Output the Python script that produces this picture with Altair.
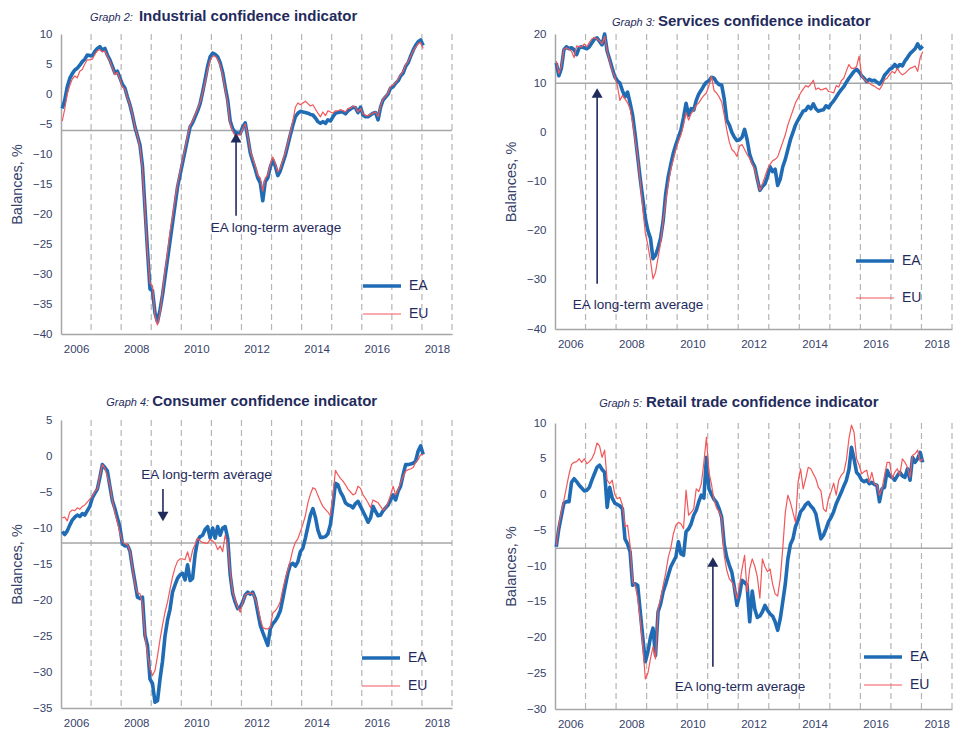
import altair as alt
import pandas as pd

FONT = "'Liberation Sans', Arial, sans-serif"
NAVY = "#1F2B5C"
TICK = "#36426A"
BLUE = "#1F6CB5"
RED = "#F2575A"
AVG_GRAY = "#A6A6A6"
DASH_GRAY = "#B5B5B5"

START = 2006
LABEL_YEARS = [2006, 2008, 2010, 2012, 2014, 2016, 2018]
GRID_YEARS = [2007, 2008, 2009, 2010, 2011, 2012, 2013, 2014, 2015, 2016, 2017, 2018, 2019]
SERIES = ["EA", "EU"]

# ---------------- Graph 2: industrial confidence (monthly, Jan 2006 - Jan 2018)
ind_ea = [-2.4, -1.0, 1.2, 2.6, 3.4, 4.0, 4.3, 4.8, 5.4, 5.8, 6.5, 6.4,
          6.4, 7.1, 7.6, 7.9, 7.3, 7.6, 6.5, 5.7, 4.6, 3.5, 3.8, 2.7,
          1.6, 1.0, -0.5, -1.8, -3.5, -5.5, -7.0, -8.5, -12.0, -19.0, -26.0, -32.5,
          -32.8, -36.5, -38.0, -36.0, -33.5, -30.5, -27.5, -24.5, -21.5, -18.5, -15.5, -13.5,
          -11.5, -9.5, -7.5, -5.5, -4.8, -3.8, -2.8, -1.6, 0.3, 2.4, 4.6, 6.2,
          6.8, 6.6, 6.2, 5.2, 3.6, 1.2, -1.0, -4.5, -5.8, -6.4, -6.5, -6.6,
          -5.5, -4.8, -7.2, -9.8, -11.2, -12.5, -14.0, -14.8, -17.8, -14.6, -14.0, -12.2,
          -11.0, -12.0, -13.6, -12.8, -11.5, -10.2, -8.5, -6.8, -5.2, -3.8, -3.2, -2.9,
          -3.0, -3.1, -3.2, -3.4, -3.5, -4.0, -4.6, -4.9, -4.6, -4.9, -4.3, -4.5,
          -3.8, -3.2, -3.1, -3.0, -3.0, -3.3, -2.8, -2.5, -2.2, -2.3, -3.1, -2.2,
          -3.5, -3.8, -3.8, -3.5, -3.2, -3.1, -4.3, -2.2, -1.0, -0.5, 0.0, 1.0,
          1.2, 1.8, 2.2, 3.0, 3.5, 4.6, 5.2, 6.3, 7.3, 8.1, 8.7, 9.0,
          8.1]
ind_eu = [-4.5, -2.5, 0.0, 1.4, 2.5, 3.0, 2.7, 3.8, 4.1, 5.0, 5.7, 5.7,
          5.8, 6.6, 7.2, 7.4, 7.0, 7.2, 6.3, 5.5, 4.4, 3.2, 3.6, 2.5,
          1.2, 0.8, -0.6, -1.8, -3.4, -5.5, -7.0, -8.8, -12.5, -19.5, -26.5, -31.5,
          -32.0, -37.0, -38.5, -36.5, -33.0, -29.5, -26.5, -23.0, -20.5, -17.5, -15.0, -13.0,
          -11.0, -9.0, -7.0, -5.2, -4.5, -3.5, -2.5, -1.4, 0.2, 2.0, 4.0, 5.6,
          6.3, 6.3, 5.8, 4.8, 3.2, 0.8, -1.5, -5.0, -6.2, -7.0, -6.8, -6.8,
          -5.8, -5.0, -7.0, -9.5, -10.8, -12.0, -13.5, -14.0, -16.2, -14.0, -13.5, -11.8,
          -10.5, -11.6, -13.0, -12.4, -11.0, -9.8, -8.2, -6.4, -4.6, -2.2, -1.5, -1.8,
          -1.5, -1.2, -1.6, -2.0, -1.8, -2.5, -3.2, -3.8, -3.0, -3.6, -2.8, -3.0,
          -3.2, -2.8, -2.8, -2.6, -2.8, -3.0, -2.4, -2.4, -2.0, -2.2, -3.0, -2.4,
          -3.3, -3.6, -3.6, -3.4, -3.2, -3.0, -3.8, -2.0, -0.8, -0.4, 0.2, 1.3,
          1.5, 1.9, 2.5, 3.2, 3.8, 4.8, 5.4, 6.3, 7.2, 7.8, 8.4, 8.6,
          7.6]

# ---------------- Graph 3: services confidence
srv_ea = [14.1, 11.5, 13.0, 16.8, 17.4, 17.0, 17.2, 16.8, 15.8, 17.2, 17.4, 17.2,
          17.0, 17.4, 18.2, 19.0, 19.2, 18.5, 17.8, 20.0, 16.5, 14.8, 13.0, 11.3,
          10.5, 10.0, 8.5, 7.2, 8.2, 6.0, 3.5, -0.5, -5.0, -9.5, -13.5, -17.5,
          -20.0, -21.5, -25.7, -25.0, -23.5, -21.5, -18.0, -12.5, -9.0, -6.5, -4.2, -2.5,
          -1.0, 0.5, 3.0, 5.9, 3.5, 4.8, 4.5, 6.5, 7.8, 8.6, 9.5, 10.2,
          10.5, 11.2, 11.0, 10.2, 9.7, 9.6, 6.8, 2.5, 1.5, 0.0, -1.0, -1.7,
          -1.5, -1.0, 0.6, -1.5, -4.5, -6.0, -7.0, -9.5, -11.8, -11.0, -10.5, -9.0,
          -7.0, -8.0, -7.5, -10.8, -9.5, -7.0, -5.5, -3.5, -1.5, 0.0, 1.5, 2.5,
          3.4, 4.3, 4.5, 5.3, 4.8, 5.8, 4.8, 4.3, 4.5, 4.6, 5.4, 5.0,
          5.8, 6.4, 7.2, 8.0, 8.7, 9.3, 10.2, 11.0, 11.7, 12.4, 12.8, 12.3,
          11.5, 11.0, 10.3, 10.8, 10.5, 10.6, 10.2, 9.8, 10.5, 11.6, 12.2, 12.8,
          13.1, 13.8, 13.2, 13.8, 13.5, 14.5, 15.2, 16.0, 16.5, 17.0, 18.0, 17.0,
          17.5]
srv_eu = [14.5, 12.0, 13.5, 16.9, 17.2, 16.9, 16.5, 15.2, 17.6, 17.4, 17.4, 18.0,
          17.4, 18.3, 19.0, 19.3, 19.0, 18.6, 18.0, 19.5, 16.5, 14.5, 12.5, 11.3,
          9.5, 6.5, 7.5, 6.8, 6.0, 4.8, 2.0, -1.5, -5.0, -10.0, -15.5, -20.5,
          -23.0, -26.0, -29.8, -28.5, -25.5, -22.5, -18.0, -14.0, -10.5, -7.5, -5.5, -3.5,
          -1.8, -0.5, 1.5, 4.0, 2.5, 3.8, 4.5, 5.5, 6.0, 6.8, 7.5, 8.0,
          9.5, 11.4, 8.5, 8.0, 7.2, 6.2, 3.5, 0.5, -2.0, -3.5, -4.0, -4.9,
          -2.8, -2.5, -3.5, -4.5, -5.3, -6.5, -7.5, -9.7, -11.8, -10.5, -9.0, -7.5,
          -6.5, -5.8, -5.5, -5.0, -3.5, -2.0, -0.5, 1.5, 3.0, 4.5, 6.0, 7.0,
          8.0, 8.8, 9.5, 9.2, 9.8, 10.6, 8.7, 9.0, 8.6, 8.8, 9.0, 8.3,
          8.2, 8.0, 9.5, 9.2, 10.5, 11.0, 12.5, 13.8, 13.0, 13.0, 13.4, 15.5,
          11.5, 10.8, 10.3, 10.0, 9.6, 9.4, 9.0, 8.7, 9.5, 10.7, 11.0, 11.8,
          12.4, 12.0, 13.0, 12.2, 11.7, 12.0, 12.5, 13.0, 13.2, 13.5, 12.4, 15.2,
          16.4]

# ---------------- Graph 4: consumer confidence
con_ea = [-10.5, -10.9, -10.4, -9.6, -8.9, -8.5, -8.2, -8.4, -8.0, -8.2, -7.6, -7.0,
          -5.8, -5.2, -4.6, -3.0, -1.2, -1.6, -2.1, -4.2, -6.2, -7.3, -8.6, -9.9,
          -12.2, -12.5, -12.4, -13.2, -15.5, -17.5, -19.6, -19.8, -19.6, -24.9, -26.3, -31.0,
          -31.6, -34.2, -34.0, -31.0, -28.5, -25.0, -22.8, -21.3, -18.9, -17.9, -17.0, -16.5,
          -16.3, -17.2, -15.1, -17.3, -17.0, -13.7, -11.7, -11.2, -11.0, -10.2, -9.8, -11.4,
          -10.0, -11.4, -9.8, -11.0, -10.0, -9.8, -11.4, -16.5, -19.1, -20.3, -21.2, -21.0,
          -20.3, -19.3, -18.9, -19.2, -18.9, -19.8, -21.7, -23.5, -24.5, -25.4, -26.3, -24.0,
          -23.3, -22.9, -22.3, -21.5, -19.8, -18.0, -16.3, -15.1, -14.9, -15.3, -14.7, -13.3,
          -12.8, -11.4, -9.8, -8.2, -7.3, -8.5, -10.3, -11.3, -11.3, -11.2, -10.8, -9.5,
          -6.8, -3.8, -4.0, -5.0, -5.6, -6.5, -6.8, -6.9, -7.2, -6.6, -6.3, -7.0,
          -7.7, -8.4, -9.2, -8.6, -7.0, -7.7, -8.3, -8.2, -7.6, -7.2, -6.8, -6.1,
          -5.4, -6.1, -4.9, -4.2, -2.6, -1.2, -1.2, -1.1, -1.0, -0.7, 0.7, 1.4,
          0.2]
con_eu = [-8.6, -8.5, -9.0, -7.8, -7.5, -7.6, -7.2, -7.4, -7.0, -6.8, -6.4, -6.0,
          -5.6, -4.9, -4.6, -2.8, -1.2, -1.7, -2.8, -4.0, -6.2, -7.8, -9.2, -10.7,
          -11.9, -12.2, -12.3, -13.2, -15.5, -17.8, -19.0, -19.1, -20.5, -24.9, -27.5, -29.5,
          -30.5, -29.8, -27.8, -25.5, -23.5, -21.7, -20.3, -18.5, -16.8, -15.5, -14.6, -14.3,
          -14.3, -14.4, -13.3, -14.7, -13.1, -12.3, -11.4, -11.8, -12.0, -12.1, -12.1, -11.6,
          -11.8, -12.1, -13.0, -12.5, -13.3, -11.0, -12.3, -16.1, -18.9, -20.0, -21.0, -21.7,
          -20.3, -19.3, -19.1, -19.0, -19.1, -19.8, -21.0, -22.6, -23.8, -24.0, -24.0, -23.8,
          -21.8, -21.5, -21.0, -20.2, -18.5, -17.0, -15.8, -14.5, -13.0, -12.0, -11.5, -10.5,
          -9.5, -8.3, -6.5, -5.3, -4.4, -4.6, -5.5, -6.3, -7.0, -7.4, -7.8, -8.3,
          -5.4, -2.0, -2.6, -3.1, -3.5, -4.0, -4.6, -5.0, -5.4, -5.2, -4.2, -4.5,
          -5.4, -5.9, -6.5, -7.2, -6.1, -6.3, -6.5, -7.0, -7.5, -7.2, -6.5, -5.4,
          -4.2, -5.4, -4.7, -3.7, -2.8, -2.1, -1.9, -1.8, -1.6, -0.9, -0.5, 0.2,
          0.2]

# ---------------- Graph 5: retail trade confidence
ret_ea = [-7.3, -4.8, -3.0, -1.2, -1.0, -1.0, 1.7, 2.2, 1.8, 1.3, 0.9, 0.5,
          0.6, 1.0, 2.0, 2.9, 3.8, 4.1, 3.5, 3.1, -1.8, 1.0, -0.5, -1.2,
          -1.4, -1.6, -2.0, -6.2, -6.9, -8.0, -12.7, -12.5, -12.7, -16.4, -20.0, -23.4,
          -22.0, -20.0, -18.7, -22.5, -16.4, -15.3, -13.6, -12.5, -11.3, -10.1, -9.4, -8.7,
          -6.6, -8.3, -8.5, -5.2, -4.8, -4.1, -2.9, -2.2, -1.0, -0.1, -0.5, 5.2,
          0.8, 0.0, -0.7, -1.1, -2.0, -3.2, -7.0, -8.8, -9.9, -10.9, -13.0, -15.5,
          -14.0, -12.0, -12.3, -12.7, -17.8, -13.5, -16.0, -17.2, -17.0, -16.4, -15.5, -16.2,
          -16.7, -17.0, -17.8, -19.0, -17.4, -15.0, -12.5, -9.0, -7.0, -6.2, -4.5, -3.6,
          -2.4, -2.0, -1.4, -1.1, -1.6, -2.0, -2.7, -4.5, -6.2, -5.7, -4.8, -3.8,
          -3.2, -2.4, -1.3, -0.5, 0.3, 1.2, 2.0, 3.5, 6.6, 5.0, 3.1, 2.7,
          2.0, 1.8, 2.0, 1.5, 1.7, 1.4, 1.3, -1.0, 0.8, 1.0, 3.4, 2.6,
          2.4, 2.0, 2.6, 3.1, 2.6, 2.4, 3.6, 2.0, 5.2, 4.5, 5.0, 5.9,
          4.5]
ret_eu = [-7.1, -4.3, -2.4, -0.8, 1.0, 2.8, 4.2, 4.5, 4.6, 5.0, 4.5, 5.0,
          4.3, 4.6, 5.0, 5.8, 7.2, 6.8, 5.2, 6.2, 2.0, 1.5, 2.0, 0.0,
          -0.6, -0.4, -1.5, -4.5, -4.3, -7.1, -12.2, -12.7, -14.5, -17.5, -21.1, -25.8,
          -25.0, -23.0, -21.3, -23.0, -16.0, -14.6, -12.7, -11.0, -8.8, -7.5, -5.5, -4.3,
          -3.9, -4.1, -4.8, 0.6, -2.9, -2.5, -2.0, 0.8, 0.4, 1.5, 4.5, 8.0,
          3.1, 1.4, -0.8, -1.9, -2.4, -3.3, -8.5, -10.6, -11.8, -12.2, -13.0, -14.6,
          -12.7, -10.4, -8.5, -13.6, -10.4, -9.0, -10.0, -11.5, -14.5, -9.0, -10.1, -10.8,
          -10.4, -12.5, -13.9, -14.2, -11.8, -7.5, -2.5, -0.1, -1.1, -2.5, -3.9, 1.7,
          3.6, 0.8, 2.2, 3.8, 3.6, 2.9, 2.2, 1.0, 0.5, -2.0, -2.4, -0.5,
          0.4, 1.6, -0.1, 2.0, 2.7, 3.1, 4.8, 7.8, 9.7, 8.7, 5.0, 4.1,
          2.9, 3.2, 3.4, 1.7, 3.1, 1.5, 1.3, -0.1, 0.8, 2.7, 4.5, 4.5,
          2.2, 3.1, 3.6, 2.7, 5.0, 4.5, 3.8, 2.4, 5.5, 5.7, 6.2, 4.6,
          5.0]


def panel(ea, eu, ydom, ystep, avg, prefix, title, title_pos, arrow, note_pos,
          legend_pos, width, height):
    n = len(ea)
    t = [START + (i + 0.5) / 12 for i in range(n)]
    df = pd.DataFrame({"t": t + t, "value": ea + eu,
                       "series": ["EA"] * n + ["EU"] * len(eu)})

    xscale = alt.Scale(domain=[2006, 2019], nice=False, zero=False)
    yscale = alt.Scale(domain=ydom, nice=False, zero=False)
    xaxis = alt.Axis(values=[y + 0.5 for y in LABEL_YEARS],
                     labelExpr="toString(floor(datum.value))", title=None,
                     grid=False, ticks=False, tickSize=0, domainColor=AVG_GRAY,
                     domainWidth=1.5, labelPadding=9, labelFont=FONT,
                     labelFontSize=11.5, labelColor=TICK, labelFlush=False,
                     labelOverlap=False)
    yaxis = alt.Axis(values=list(range(ydom[0], ydom[1] + 1, ystep)),
                     title="Balances, %", grid=False, ticks=False, tickSize=0,
                     domainColor=AVG_GRAY, domainWidth=1.5, labelPadding=9,
                     labelFont=FONT, labelFontSize=11.5, labelColor=TICK,
                     titleFont=FONT, titleFontSize=14.5, titleFontWeight="normal",
                     titleColor=TICK, titlePadding=8)

    def X(f):
        return alt.X(f, scale=xscale, axis=xaxis)

    def Y(f):
        return alt.Y(f, scale=yscale, axis=yaxis)

    grid = alt.Chart(pd.DataFrame({"g": GRID_YEARS})).mark_rule(
        color=DASH_GRAY, strokeDash=[6, 4], strokeWidth=1.2).encode(x=X("g:Q"))

    avg_rule = alt.Chart(pd.DataFrame({"avg": [avg]})).mark_rule(
        color=AVG_GRAY, strokeWidth=1.5).encode(y=Y("avg:Q"))

    lx, ly, rp = legend_pos
    leg = alt.Legend(orient="none", legendX=lx, legendY=ly, title=None,
                     symbolType="stroke", symbolSize=1444, labelFont=FONT,
                     labelFontSize=14, labelColor=NAVY, rowPadding=rp,
                     labelOffset=6, padding=0)
    lines = alt.Chart(df).mark_line(strokeJoin="round").encode(
        x=X("t:Q"), y=Y("value:Q"),
        color=alt.Color("series:N", scale=alt.Scale(domain=SERIES, range=[BLUE, RED]), legend=leg),
        strokeWidth=alt.StrokeWidth("series:N", scale=alt.Scale(domain=SERIES, range=[3.6, 1.2]), legend=leg),
    )

    ax, y_from, y_head, shape = arrow
    shaft = alt.Chart(pd.DataFrame({"x": [ax], "y": [y_from], "y2": [y_head]})).mark_rule(
        color=NAVY, strokeWidth=1.6).encode(x=X("x:Q"), y=Y("y:Q"), y2="y2:Q")
    head = alt.Chart(pd.DataFrame({"x": [ax], "y": [y_head]})).mark_point(
        shape=shape, filled=True, size=121, color=NAVY, opacity=1).encode(
        x=X("x:Q"), y=Y("y:Q"))

    note = alt.Chart(pd.DataFrame({"x": [note_pos[0]], "y": [note_pos[1]],
                                   "label": ["EA long-term average"]})).mark_text(
        font=FONT, fontSize=13.5, color=NAVY, align="center", baseline="middle").encode(
        x=X("x:Q"), y=Y("y:Q"), text="label:N")

    px, tx, ty = title_pos
    pre = alt.Chart(pd.DataFrame({"x": [px], "y": [ty], "label": [prefix]})).mark_text(
        font=FONT, fontSize=11, fontStyle="italic", color=NAVY, align="right",
        baseline="alphabetic").encode(x=X("x:Q"), y=Y("y:Q"), text="label:N")
    ttl = alt.Chart(pd.DataFrame({"x": [tx], "y": [ty], "label": [title]})).mark_text(
        font=FONT, fontSize=15, fontWeight="bold", color=NAVY, align="left",
        baseline="alphabetic").encode(x=X("x:Q"), y=Y("y:Q"), text="label:N")

    return alt.layer(grid, avg_rule, lines, shaft, head, note, pre, ttl).properties(
        width=width, height=height)


p2 = panel(ind_ea, ind_eu, [-40, 10], 5, -6.1, "Graph 2:", "Industrial confidence indicator",
           (2008.39, 2008.59, 12.22), (2011.82, -20.3, -7.3, "triangle-up"),
           (2013.15, -22.4), (300, 231, 0), 391, 300)
p3 = panel(srv_ea, srv_eu, [-40, 20], 10, 10.0, "Graph 3:", "Services confidence indicator",
           (2009.27, 2009.37, 21.63), (2007.38, -30.8, 8.0, "triangle-up"),
           (2008.72, -35.2), (299, 206, 9), 397, 295)
p4 = panel(con_ea, con_eu, [-35, 5], 5, -12.1, "Graph 4:", "Consumer confidence indicator",
           (2008.93, 2009.03, 6.99), (2009.39, -4.6, -8.4, "triangle-down"),
           (2010.84, -2.6), (299, 217, 0), 391, 288)
p5 = panel(ret_ea, ret_eu, [-30, 10], 5, -7.5, "Graph 5:", "Retail trade confidence indicator",
           (2008.85, 2008.98, 12.28), (2011.17, -24.1, -9.44, "triangle-up"),
           (2012.06, -26.9), (307, 213, 0), 397, 286)

left = alt.vconcat(p2, p4, spacing=38).resolve_scale(color="independent", strokeWidth="independent")
right = alt.vconcat(p3, p5, spacing=44).resolve_scale(color="independent", strokeWidth="independent")

chart = alt.hconcat(left, right, spacing=48).resolve_scale(
    color="independent", strokeWidth="independent"
).properties(
    padding={"left": 0, "top": 0, "right": 0, "bottom": 0}
).configure_view(stroke="transparent")

chart.save("out.html", embed_options={"renderer": "svg", "actions": False})
